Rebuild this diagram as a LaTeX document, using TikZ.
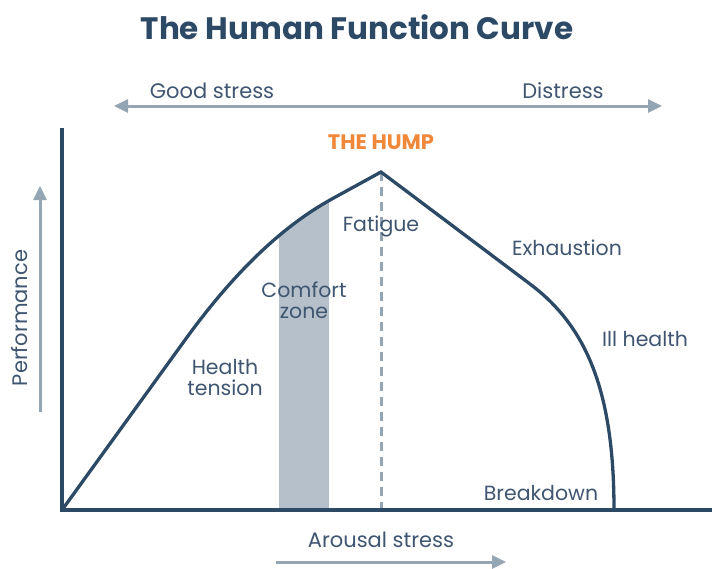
\documentclass[tikz,border=0pt]{standalone}
\usepackage{fontspec}
\setmainfont{Poppins}
\usetikzlibrary{arrows.meta}
\definecolor{navy}{HTML}{2C4A66}
\definecolor{labeltext}{HTML}{3F5570}
\definecolor{arrowgray}{HTML}{94A5B4}
\definecolor{band}{HTML}{B5C0CA}
\definecolor{humporange}{HTML}{F0883A}
\begin{document}
\begin{tikzpicture}[x=1pt,y=-1pt,
  axisline/.style={navy,line width=3.5pt},
  curveline/.style={navy,line width=3.3pt,line join=miter},
  guide/.style={arrowgray,line width=3pt,-{Triangle[length=14pt,width=13pt]}},
  guidetwo/.style={arrowgray,line width=3pt,{Triangle[length=14pt,width=13pt]}-{Triangle[length=14pt,width=13pt]}},
  lbl/.style={text=labeltext,font=\fontsize{20.5}{21}\selectfont,align=center,inner sep=0pt},
  biglbl/.style={text=labeltext,font=\fontsize{21}{23}\selectfont,inner sep=0pt}]
\useasboundingbox (0,0) rectangle (712,568);

% key points of the curve
\coordinate (origin) at (62,510);
\coordinate (ytop) at (62,130);
\coordinate (xend) at (712,510);
\coordinate (bendA) at (185,340);
\coordinate (bendB) at (330,200);
\coordinate (hump) at (381,172);
\coordinate (bendC) at (530,284);
\coordinate (floor) at (614,510);
\coordinate (humpbase) at (381,510);

% comfort zone band, clipped under the curve
\begin{scope}
  \clip (origin) -- (bendA) .. controls (232,275) and (280,228) .. (bendB) -- (hump) -- (bendC)
        .. controls (586,326) and (614,390) .. (floor) -- cycle;
  \fill[band] (279,100) rectangle (329,510);
\end{scope}

% dashed line below the hump
\draw[arrowgray,line width=3pt,dash pattern=on 9pt off 6pt] (hump) -- (humpbase);

% the curve
\draw[curveline] (origin) -- (bendA) .. controls (232,275) and (280,228) .. (bendB) -- (hump) -- (bendC)
        .. controls (586,326) and (614,390) .. (floor);

% axes
\draw[axisline,line cap=rect] (ytop) -- (origin) -- (xend);

% title
\node[text=navy,font=\bfseries\fontsize{31}{34}\selectfont,inner sep=0pt] (title) at (357,27) {The Human Function Curve};

% stress direction arrow
\coordinate (gsL) at (114,106);
\coordinate (gsR) at (662,106);
\draw[guidetwo] (gsL) -- (gsR);
\node[biglbl] (good) at (212,91) {Good stress};
\node[biglbl] (dist) at (563,91) {Distress};

% hump label
\node[text=humporange,font=\bfseries\fontsize{21}{23}\selectfont,inner sep=0pt] (humplbl) at (381,142) {THE HUMP};

% performance arrow
\coordinate (pfB) at (40,412);
\coordinate (pfT) at (40,186);
\draw[guide] (pfB) -- (pfT);
\node[biglbl,rotate=90] (perf) at (20,318) {Performance};

% arousal arrow
\coordinate (arL) at (276,562);
\coordinate (arR) at (506,562);
\draw[guide] (arL) -- (arR);
\node[biglbl] (arousal) at (381,540) {Arousal stress};

% region labels
\node[lbl] (fatigue) at (381,226) {Fatigue};
\node[lbl] (exh) at (567,248) {Exhaustion};
\node[lbl] (comfort) at (304,300) {Comfort\\zone};
\node[lbl] (health) at (225,378) {Health\\tension};
\node[lbl] (ill) at (645,339) {Ill health};
\node[lbl] (brk) at (541,493) {Breakdown};
\end{tikzpicture}
\end{document}
